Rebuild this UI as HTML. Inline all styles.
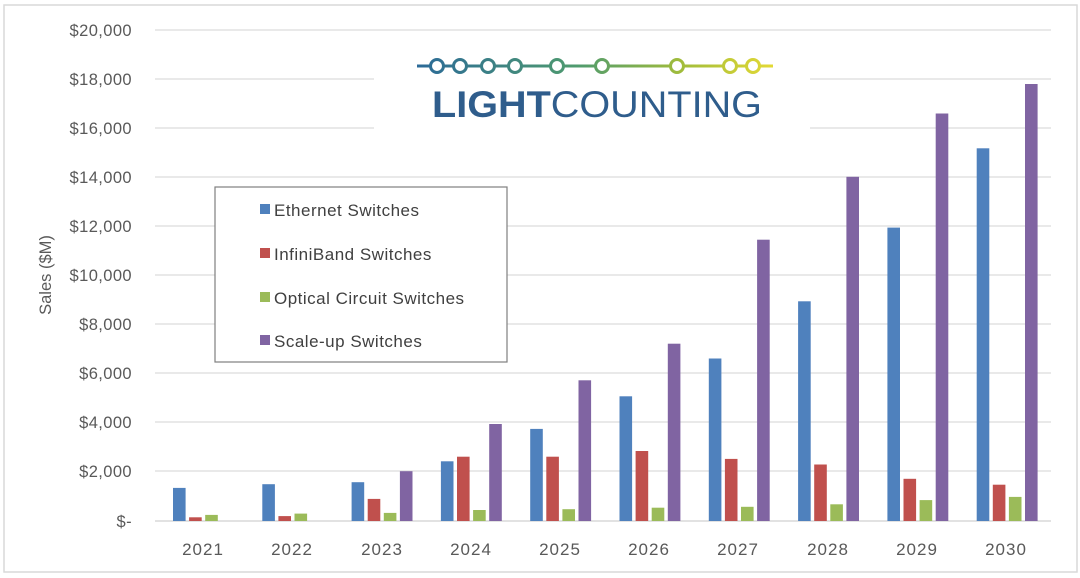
<!DOCTYPE html>
<html><head><meta charset="utf-8"><style>
html,body{margin:0;padding:0;background:#fff;}
svg{display:block;font-family:"Liberation Sans",sans-serif;}
</style></head><body>
<svg width="1080" height="578" viewBox="0 0 1080 578" xmlns="http://www.w3.org/2000/svg">
<rect x="4" y="5" width="1073" height="567" fill="#fff" stroke="#d9d9d9" stroke-width="1.5"/>
<g stroke="#dcdcdc" stroke-width="1.3">
<line x1="155" x2="1051" y1="30" y2="30"/>
<line x1="155" x2="1051" y1="79" y2="79"/>
<line x1="155" x2="1051" y1="128" y2="128"/>
<line x1="155" x2="1051" y1="177" y2="177"/>
<line x1="155" x2="1051" y1="226" y2="226"/>
<line x1="155" x2="1051" y1="275" y2="275"/>
<line x1="155" x2="1051" y1="324" y2="324"/>
<line x1="155" x2="1051" y1="373" y2="373"/>
<line x1="155" x2="1051" y1="422" y2="422"/>
<line x1="155" x2="1051" y1="471" y2="471"/>
<line x1="155" x2="1051" y1="521" y2="521" stroke="#d0d0d0"/>
</g>
<g fill="#595959" font-size="16.5" letter-spacing="0.4" text-anchor="end">
<text x="132" y="36">$20,000</text>
<text x="132" y="85">$18,000</text>
<text x="132" y="134">$16,000</text>
<text x="132" y="183">$14,000</text>
<text x="132" y="232">$12,000</text>
<text x="132" y="281">$10,000</text>
<text x="132" y="330">$8,000</text>
<text x="132" y="379">$6,000</text>
<text x="132" y="428">$4,000</text>
<text x="132" y="477">$2,000</text>
<text x="132" y="527">$-</text>
</g>
<text transform="translate(51,275) rotate(-90)" text-anchor="middle" font-size="16.5" fill="#595959">Sales ($M)</text>
<g fill="#595959" font-size="17" letter-spacing="1" text-anchor="middle">
<text x="203" y="555">2021</text><text x="292" y="555">2022</text><text x="382" y="555">2023</text>
<text x="471" y="555">2024</text><text x="560" y="555">2025</text><text x="649" y="555">2026</text>
<text x="738" y="555">2027</text><text x="828" y="555">2028</text><text x="917" y="555">2029</text>
<text x="1006" y="555">2030</text>
</g>
<rect x="374" y="38" width="436" height="96" fill="#fff"/>
<g id="bars"></g>
<rect x="215" y="187" width="292" height="175" fill="#fff" stroke="#7f7f7f" stroke-width="1.2"/>
<g font-size="17" letter-spacing="0.5" fill="#404040">
<rect x="260" y="204" width="10" height="10" fill="#4f81bd"/><text x="274" y="216">Ethernet Switches</text>
<rect x="260" y="248" width="10" height="10" fill="#c0504d"/><text x="274" y="260">InfiniBand Switches</text>
<rect x="260" y="292" width="10" height="10" fill="#9bbb59"/><text x="274" y="304">Optical Circuit Switches</text>
<rect x="260" y="335" width="10" height="10" fill="#8064a2"/><text x="274" y="347">Scale-up Switches</text>
</g>
<defs><linearGradient id="lg" x1="417" x2="773" y1="0" y2="0" gradientUnits="userSpaceOnUse">
<stop offset="0" stop-color="#2b6a98"/><stop offset="0.45" stop-color="#4f9b6e"/><stop offset="0.75" stop-color="#a3bd3a"/><stop offset="1" stop-color="#e3d935"/></linearGradient></defs>
<line x1="417" x2="773" y1="66" y2="66" stroke="url(#lg)" stroke-width="3"/>
<g fill="#fff" stroke="url(#lg)" stroke-width="3">
<circle cx="437" cy="66" r="6.5"/><circle cx="460" cy="66" r="6.5"/><circle cx="488" cy="66" r="6.5"/><circle cx="515" cy="66" r="6.5"/>
<circle cx="557" cy="66" r="6.5"/><circle cx="602" cy="66" r="6.5"/><circle cx="677" cy="66" r="6.5"/><circle cx="730" cy="66" r="6.5"/><circle cx="753" cy="66" r="6.5"/>
</g>
<text x="432" y="117" font-size="37" fill="#2f5d8c" textLength="330" lengthAdjust="spacingAndGlyphs"><tspan font-weight="bold">LIGHT</tspan>COUNTING</text>
</svg>
<script>
var E=[1350,1500,1580,2430,3750,5080,6620,8950,11950,15180],
I=[150,200,900,2620,2620,2850,2530,2300,1720,1480],
O=[250,300,330,450,480,540,580,680,850,980],
S=[0,0,2030,3950,5730,7220,11460,14020,16600,17800],
C=["#4f81bd","#c0504d","#9bbb59","#8064a2"],D=[E,I,O,S],g=document.getElementById('bars'),h='';
for(var i=0;i<10;i++){for(var k=0;k<4;k++){var v=D[k][i];if(!v)continue;var hh=v*491/20000;var x=173+89.3*i+16.1*k;
h+='<rect x="'+x.toFixed(1)+'" y="'+(521-hh).toFixed(1)+'" width="12.6" height="'+hh.toFixed(1)+'" fill="'+C[k]+'"/>';}}
g.innerHTML=h;
</script>
</body></html>
